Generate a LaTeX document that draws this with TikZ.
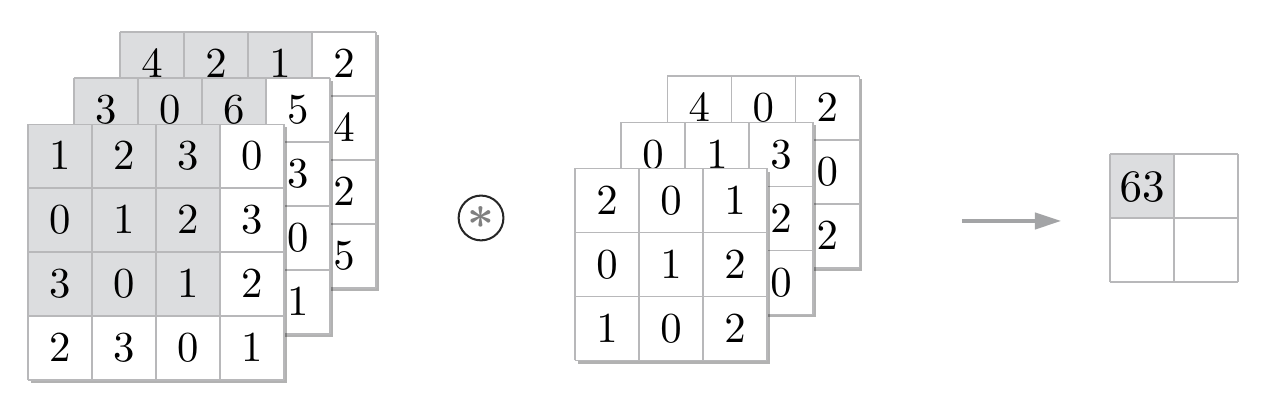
\documentclass[tikz,border=0pt]{standalone}
\usetikzlibrary{shadows,arrows.meta}
\definecolor{cellgray}{RGB}{220,221,223}
\definecolor{linegray}{RGB}{184,184,186}
\definecolor{arrowgray}{RGB}{163,164,166}
\font\numfont=cmr10 at 19pt
\font\bignumfont=cmr10 at 20pt
\begin{document}
\begin{tikzpicture}[
    num/.style={font=\numfont},
    layer/.style={fill=white,drop shadow={shadow xshift=0.05cm,shadow yshift=-0.05cm,fill=black,opacity=0.3}},
    shade/.style={fill=cellgray},
    cellgrid/.style={draw=linegray,line width=0.6pt},
    ]
    \useasboundingbox (0,0) rectangle (19.734,-6.359);
    
    % input, back
    \begin{scope}[shift={(1.875,-0.5)}]
    \fill[layer] (0,0) rectangle (4,-4);
    \fill[shade] (0,0) rectangle (3,-3);
    \draw[cellgrid] (0,-4) grid (4,0);
    \node[num] (A1) at (0.5,-0.5) {4};
    \node[num] (A2) at (1.5,-0.5) {2};
    \node[num] (A3) at (2.5,-0.5) {1};
    \node[num] (A4) at (3.5,-0.5) {2};
    \node[num] (A5) at (3.5,-1.5) {4};
    \node[num] (A6) at (3.5,-2.5) {2};
    \node[num] (A7) at (3.5,-3.5) {5};
    \end{scope}
    
    % input, middle
    \begin{scope}[shift={(1.155,-1.22)}]
    \fill[layer] (0,0) rectangle (4,-4);
    \fill[shade] (0,0) rectangle (3,-3);
    \draw[cellgrid] (0,-4) grid (4,0);
    \node[num] (B1) at (0.5,-0.5) {3};
    \node[num] (B2) at (1.5,-0.5) {0};
    \node[num] (B3) at (2.5,-0.5) {6};
    \node[num] (B4) at (3.5,-0.5) {5};
    \node[num] (B5) at (3.5,-1.5) {3};
    \node[num] (B6) at (3.5,-2.5) {0};
    \node[num] (B7) at (3.5,-3.5) {1};
    \end{scope}
    
    % input, front
    \begin{scope}[shift={(0.435,-1.94)}]
    \fill[layer] (0,0) rectangle (4,-4);
    \fill[shade] (0,0) rectangle (3,-3);
    \draw[cellgrid] (0,-4) grid (4,0);
    \node[num] (C1) at (0.5,-0.5) {1};
    \node[num] (C2) at (1.5,-0.5) {2};
    \node[num] (C3) at (2.5,-0.5) {3};
    \node[num] (C4) at (3.5,-0.5) {0};
    \node[num] (C5) at (0.5,-1.5) {0};
    \node[num] (C6) at (1.5,-1.5) {1};
    \node[num] (C7) at (2.5,-1.5) {2};
    \node[num] (C8) at (3.5,-1.5) {3};
    \node[num] (C9) at (0.5,-2.5) {3};
    \node[num] (C10) at (1.5,-2.5) {0};
    \node[num] (C11) at (2.5,-2.5) {1};
    \node[num] (C12) at (3.5,-2.5) {2};
    \node[num] (C13) at (0.5,-3.5) {2};
    \node[num] (C14) at (1.5,-3.5) {3};
    \node[num] (C15) at (2.5,-3.5) {0};
    \node[num] (C16) at (3.5,-3.5) {1};
    \end{scope}
    
    % convolution sign
    \node[circle,draw=black!85,line width=0.9pt,minimum size=0.7cm,inner sep=0pt] (H) at (7.516,-3.406) {};
    \node[font=\fontsize{20}{24}\selectfont\boldmath,text=black!50] (H1) at (H.center) {$\ast$};
    
    % filter, back
    \begin{scope}[shift={(10.425,-1.19)}]
    \fill[layer] (0,0) rectangle (3,-3);
    \draw[cellgrid] (0,-3) grid (3,0);
    \node[num] (D1) at (0.5,-0.5) {4};
    \node[num] (D2) at (1.5,-0.5) {0};
    \node[num] (D3) at (2.5,-0.5) {2};
    \node[num] (D4) at (2.5,-1.5) {0};
    \node[num] (D5) at (2.5,-2.5) {2};
    \end{scope}
    
    % filter, middle
    \begin{scope}[shift={(9.705,-1.91)}]
    \fill[layer] (0,0) rectangle (3,-3);
    \draw[cellgrid] (0,-3) grid (3,0);
    \node[num] (E1) at (0.5,-0.5) {0};
    \node[num] (E2) at (1.5,-0.5) {1};
    \node[num] (E3) at (2.5,-0.5) {3};
    \node[num] (E4) at (2.5,-1.5) {2};
    \node[num] (E5) at (2.5,-2.5) {0};
    \end{scope}
    
    % filter, front
    \begin{scope}[shift={(8.985,-2.63)}]
    \fill[layer] (0,0) rectangle (3,-3);
    \draw[cellgrid] (0,-3) grid (3,0);
    \node[num] (F1) at (0.5,-0.5) {2};
    \node[num] (F2) at (1.5,-0.5) {0};
    \node[num] (F3) at (2.5,-0.5) {1};
    \node[num] (F4) at (0.5,-1.5) {0};
    \node[num] (F5) at (1.5,-1.5) {1};
    \node[num] (F6) at (2.5,-1.5) {2};
    \node[num] (F7) at (0.5,-2.5) {1};
    \node[num] (F8) at (1.5,-2.5) {0};
    \node[num] (F9) at (2.5,-2.5) {2};
    \end{scope}
    
    % arrow
    \coordinate (S1) at (15.03,-3.453);
    \coordinate (S2) at (16.59,-3.453);
    \draw[-{Triangle[length=12pt,width=7pt]},draw=arrowgray,fill=arrowgray,line width=2.2pt] (S1) -- (S2);
    
    % output
    \begin{scope}[shift={(17.344,-2.406)}]
    \fill[white] (0,0) rectangle (2,-2);
    \fill[shade] (0,0) rectangle (1,-1);
    \draw[cellgrid] (0,-2) grid (2,0);
    \node[font=\bignumfont] (G) at (0.5,-0.52) {63};
    \end{scope}
    
\end{tikzpicture}
\end{document}
